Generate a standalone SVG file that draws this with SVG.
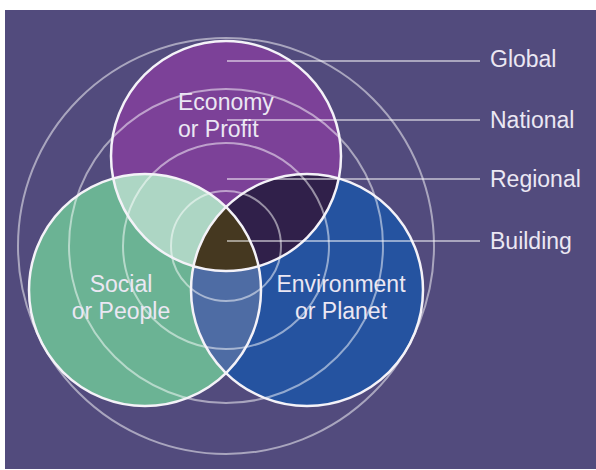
<svg xmlns="http://www.w3.org/2000/svg" width="596" height="470" viewBox="0 0 596 470">
  <defs>
    <style>
      .lbl { font-family: "Liberation Sans", Arial, Helvetica, sans-serif; font-size: 23px; fill: #ebe7f3; }
      .ring { fill: none; stroke: #ffffff; stroke-opacity: 0.5; stroke-width: 2; }
      .outline { fill: none; stroke: #f4f2f8; stroke-width: 2.5; }
      .lead { stroke: #ffffff; stroke-opacity: 0.5; stroke-width: 2; }
    </style>
    <clipPath id="clipEco"><circle cx="226" cy="156" r="115"/></clipPath>
    <clipPath id="clipSoc"><circle cx="145" cy="290" r="116"/></clipPath>
  </defs>

  <!-- page and panel -->
  <rect x="0" y="0" width="596" height="470" fill="#ffffff"/>
  <rect x="5" y="10" width="591" height="459" fill="#524b7d"/>

  <!-- filled sets and their overlaps -->
  <g id="circle-fills">
    <circle cx="226" cy="156" r="115" fill="#7c4198"/>
    <circle cx="145" cy="290" r="116" fill="#6bb394"/>
    <circle cx="307" cy="290" r="116" fill="#2553a0"/>
    <circle cx="145" cy="290" r="116" fill="#add6c4" clip-path="url(#clipEco)"/>
    <circle cx="307" cy="290" r="116" fill="#30204a" clip-path="url(#clipEco)"/>
    <circle cx="307" cy="290" r="116" fill="#4e6ca4" clip-path="url(#clipSoc)"/>
    <g clip-path="url(#clipEco)">
      <circle cx="307" cy="290" r="116" fill="#453820" clip-path="url(#clipSoc)"/>
    </g>
  </g>

  <!-- concentric scale rings -->
  <g id="rings">
    <circle id="ring-global" class="ring" cx="226" cy="246" r="208"/>
    <circle id="ring-national" class="ring" cx="226" cy="246" r="157"/>
    <circle id="ring-regional" class="ring" cx="226" cy="246" r="103"/>
    <circle id="ring-building" class="ring" cx="226" cy="246" r="55"/>
  </g>

  <g id="eco">
    <circle class="outline" cx="226" cy="156" r="115"/>
    <text class="lbl" x="178" y="110">Economy</text>
    <text class="lbl" x="178" y="137">or Profit</text>
  </g>

  <g id="social">
    <circle class="outline" cx="145" cy="290" r="116"/>
    <text class="lbl" x="121" y="292" text-anchor="middle">Social</text>
    <text class="lbl" x="121" y="319" text-anchor="middle">or People</text>
  </g>

  <g id="env">
    <circle class="outline" cx="307" cy="290" r="116"/>
    <text class="lbl" x="341" y="292" text-anchor="middle">Environment</text>
    <text class="lbl" x="341" y="319" text-anchor="middle">or Planet</text>
  </g>

  <!-- leader lines to the scale labels -->
  <g id="connectors">
    <line class="lead" x1="227" y1="61" x2="480" y2="61"/>
    <line class="lead" x1="227" y1="120" x2="480" y2="120"/>
    <line class="lead" x1="227" y1="179" x2="480" y2="179"/>
    <line class="lead" x1="227" y1="241" x2="480" y2="241"/>
  </g>

  <g id="level-global"><text class="lbl" x="490" y="67">Global</text></g>
  <g id="level-national"><text class="lbl" x="490" y="128">National</text></g>
  <g id="level-regional"><text class="lbl" x="490" y="187">Regional</text></g>
  <g id="level-building"><text class="lbl" x="490" y="249">Building</text></g>
</svg>
